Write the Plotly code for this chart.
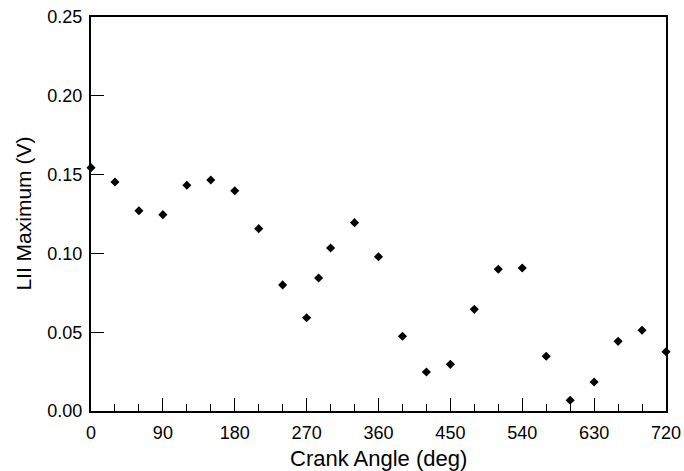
import plotly.graph_objects as go

crank_angle = [0, 30, 60, 90, 120, 150, 180, 210, 240, 270, 285, 300, 330, 360,
               390, 420, 450, 480, 510, 540, 570, 600, 630, 660, 690, 720]
lii_max = [0.1544, 0.1453, 0.1271, 0.1246, 0.1432, 0.1466, 0.1398, 0.1157, 0.0800,
           0.0592, 0.0844, 0.1034, 0.1195, 0.0979, 0.0474, 0.0247, 0.0296, 0.0645,
           0.0899, 0.0907, 0.0347, 0.0068, 0.0184, 0.0442, 0.0512, 0.0376]

x_ticks = [0, 90, 180, 270, 360, 450, 540, 630, 720]
y_ticks = [0.00, 0.05, 0.10, 0.15, 0.20, 0.25]
y_ticklabels = ["0.00", "0.05", "0.10", "0.15", "0.20", "0.25"]

font_family = "Arial, Liberation Sans, sans-serif"
W, H = 684, 471
L, R, T, B = 90.5, 17.5, 17, 60

fig = go.Figure()
fig.add_trace(go.Scatter(
    x=crank_angle, y=lii_max, mode="markers",
    marker=dict(symbol="diamond", size=7, color="black", line=dict(width=0)),
    cliponaxis=False, showlegend=False,
))

fig.update_layout(
    width=W, height=H,
    margin=dict(l=L, r=R, t=T, b=B, autoexpand=False),
    paper_bgcolor="white", plot_bgcolor="white",
    font=dict(family=font_family, color="black", size=18),
)
fig.update_xaxes(
    range=[0, 720], tickvals=x_ticks, ticktext=[str(v) for v in x_ticks],
    ticks="inside", ticklen=13, tickwidth=1, tickcolor="black",
    minor=dict(dtick=30, tick0=0, ticks="inside", ticklen=7, tickwidth=1, tickcolor="black"),
    showline=True, linewidth=2, linecolor="black", mirror=True,
    showgrid=False, zeroline=False, automargin=False,
    tickfont=dict(size=18), ticklabelstandoff=4,
)
fig.update_yaxes(
    range=[0, 0.25], tickvals=y_ticks, ticktext=y_ticklabels,
    ticks="inside", ticklen=13, tickwidth=1, tickcolor="black",
    showline=True, linewidth=2, linecolor="black", mirror=True,
    showgrid=False, zeroline=False, automargin=False,
    tickfont=dict(size=18), ticklabelstandoff=3,
)

# Axis titles
fig.add_annotation(
    text="Crank Angle (deg)", xref="paper", yref="paper",
    x=0.5, y=-(459 - (H - B)) / (H - T - B), xanchor="center", yanchor="middle",
    showarrow=False, font=dict(size=22),
)
fig.add_annotation(
    text="LII Maximum (V)", xref="paper", yref="paper",
    x=-(L - 22) / (W - L - R), y=0.5, xanchor="center", yanchor="middle",
    textangle=-90, showarrow=False, font=dict(size=21),
)

fig.write_html("out.html")
